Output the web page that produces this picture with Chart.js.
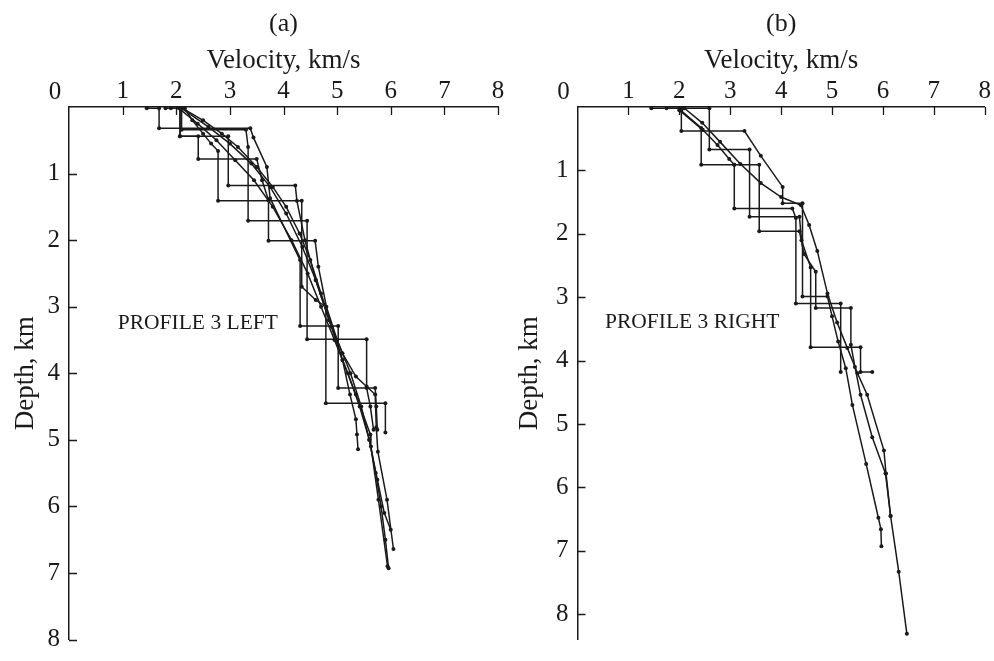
<!DOCTYPE html>
<html><head><meta charset="utf-8">
<script src="https://cdn.jsdelivr.net/npm/chart.js@4.4.1/dist/chart.umd.min.js"></script>
<style>
html,body{margin:0;padding:0;background:#fff;width:994px;height:661px;overflow:hidden;}
#cA{position:absolute;left:0;top:0;}
#cB{position:absolute;left:497px;top:0;}
</style></head><body>
<canvas id="cA" width="520" height="661"></canvas>
<canvas id="cB" width="497" height="661"></canvas>
<script>
// ---- tick labels ----
const velocityTicks = [0,1,2,3,4,5,6,7,8];
const depthTicks = [0,1,2,3,4,5,6,7,8];

// ---- panel (a): PROFILE 3 LEFT (velocity km/s, depth km) ----
const profA1_vel = [1.45,1.68,1.68,3.38,3.44,3.69,3.75,4.31,4.31,5.02,5.02,5.71,5.73,5.75];
const profA1_dep = [0.02,0.02,0.32,0.32,0.46,0.90,1.37,2.30,3.29,3.29,4.22,4.22,4.50,4.85];
const profA2_vel = [1.90,2.07,2.07,2.97,2.97,4.22,4.25,4.40,4.60,4.85,5.10,5.35,5.62,5.63,5.77,5.94];
const profA2_dep = [0.02,0.02,0.44,0.44,1.18,1.18,1.41,2.00,2.60,3.20,3.80,4.32,4.92,5.10,5.90,6.90];
const profA3_vel = [2.16,2.30,2.50,2.65,2.78,2.78,4.34,4.34,4.60,4.79,4.79,5.90,5.90];
const profA3_dep = [0.02,0.20,0.40,0.55,0.66,1.41,1.41,2.70,2.90,3.00,4.45,4.45,4.89];
const profA4_vel = [2.10,2.10,3.30,3.34,3.34,4.44,4.44,5.55,5.55,5.62,5.68];
const profA4_dep = [0.02,0.34,0.34,0.60,1.71,1.71,3.49,3.49,4.22,4.50,4.85];
const profA5_vel = [1.80,2.07,2.07,2.41,2.41,3.50,3.60,3.72,3.72,4.59,4.65,4.80,5.00,5.25,5.45,5.60,5.75,5.88,6.00];
const profA5_dep = [0.02,0.02,0.44,0.44,0.78,0.78,1.10,1.40,2.01,2.01,2.40,3.00,3.50,4.00,4.50,5.00,5.60,6.10,6.35];
const profA6_vel = [2.12,2.50,2.85,3.15,3.50,3.80,4.05,4.30,4.50,4.70,4.90,5.10,5.24,5.35,5.37,5.39];
const profA6_dep = [0.02,0.20,0.40,0.60,0.90,1.20,1.50,1.90,2.30,2.80,3.30,3.80,4.32,4.69,4.92,5.14];
const profA7_vel = [2.10,2.60,3.00,3.40,3.75,4.05,4.35,4.60,4.85,5.10,5.35,5.55,5.71,5.73,5.76,5.93,6.05];
const profA7_dep = [0.02,0.30,0.55,0.85,1.20,1.60,2.10,2.60,3.20,3.70,4.05,4.20,4.32,4.81,5.18,5.90,6.64];
const profA8_vel = [2.05,2.40,2.75,3.10,3.45,3.80,4.15,4.45,4.70,4.95,5.20,5.42,5.60,5.72,5.82,5.90,5.96];
const profA8_dep = [0.02,0.25,0.50,0.80,1.10,1.50,2.00,2.50,3.00,3.50,4.00,4.50,5.00,5.50,6.00,6.50,6.93];

// ---- panel (b): PROFILE 3 RIGHT ----
const profB1_vel = [1.45,2.04,2.04,3.28,3.60,4.03,4.03,4.42,4.42,4.91,5.00,5.12,5.27,5.40,5.67,5.91,5.96,5.97];
const profB1_dep = [0.02,0.02,0.38,0.38,0.77,1.26,1.52,1.52,2.99,2.99,3.30,3.70,4.12,4.70,5.63,6.48,6.66,6.93];
const profB2_vel = [1.75,2.59,2.59,3.38,3.38,4.36,4.40,4.58,4.58,5.56,5.56,5.79];
const profB2_dep = [0.02,0.02,0.67,0.67,1.73,1.73,2.10,2.53,3.79,3.79,4.18,4.18];
const profB3_vel = [2.00,2.04,2.43,2.43,3.08,3.08,4.22,4.29,4.29,5.17,5.17];
const profB3_dep = [0.02,0.06,0.33,0.91,0.91,1.60,1.60,1.75,3.10,3.10,4.18];
const profB4_vel = [2.00,2.46,2.75,2.98,3.08,3.57,3.57,4.36,4.45,4.68,4.68,5.37,5.37,5.45,5.56,5.79,6.05,6.15,6.31,6.47];
const profB4_dep = [0.05,0.36,0.60,0.82,0.91,0.91,1.96,1.96,2.32,2.60,3.17,3.17,3.75,4.10,4.54,5.21,5.78,6.45,7.33,8.31];
const profB5_vel = [2.10,2.45,2.80,3.20,3.60,4.00,4.39,4.55,4.71,4.91,5.10,5.30,5.50,5.69,6.02,6.06,6.15];
const profB5_dep = [0.02,0.25,0.55,0.90,1.20,1.42,1.55,1.86,2.27,2.94,3.40,3.80,4.20,4.54,5.42,5.78,6.45];

const SERIF = '"Liberation Serif", "DejaVu Serif", serif';
const INK = '#1a1a1a';

function pts(v, d) { return v.map((x, i) => ({x: x, y: d[i]})); }
function ds(v, d) {
  return {data: pts(v, d), showLine: true, borderColor: INK, borderWidth: 1.5,
          pointRadius: 2, pointBackgroundColor: INK, pointBorderWidth: 0,
          pointHoverRadius: 2, fill: false, tension: 0};
}

const decor = {
  id: 'decor',
  afterDraw(chart, args, o) {
    const {ctx, chartArea} = chart;
    const xs = chart.scales.x, ys = chart.scales.y;
    ctx.save();
    ctx.strokeStyle = INK; ctx.lineWidth = 1.3;
    ctx.beginPath();
    velocityTicks.forEach(v => { if (v === 0) return;
      const px = Math.round(xs.getPixelForValue(v)) + 0.5;
      ctx.moveTo(px, chartArea.top); ctx.lineTo(px, chartArea.top + 8); });
    depthTicks.forEach(d => { if (d === 0) return;
      const py = Math.round(ys.getPixelForValue(d)) + 0.5;
      ctx.moveTo(chartArea.left, py); ctx.lineTo(chartArea.left + 8, py); });
    ctx.stroke();
    ctx.fillStyle = INK;
    ctx.font = '25px ' + SERIF;
    ctx.textAlign = 'center'; ctx.textBaseline = 'alphabetic';
    ctx.fillText('0', chartArea.left - 14, chartArea.top - 8.5);
    ctx.font = '21.5px ' + SERIF;
    ctx.textAlign = 'left'; ctx.textBaseline = 'middle';
    ctx.fillText(o.label, xs.getPixelForValue(o.lx), ys.getPixelForValue(o.ly));
    ctx.restore();
  }
};

function makeChart(id, title, datasets, yMax, yWidth, yTitlePad, padRight, label, lx, ly) {
  return new Chart(document.getElementById(id), {
    type: 'scatter',
    data: {datasets: datasets},
    plugins: [decor],
    options: {
      responsive: false, animation: false,
      layout: {padding: {left: 0, right: padRight, top: 0, bottom: 12}},
      plugins: {
        legend: {display: false}, tooltip: {enabled: false},
        title: {display: true, text: title, fullSize: false, color: INK,
                font: {family: SERIF, size: 26, weight: 'normal'}, padding: {top: 9, bottom: 0}},
        decor: {label: label, lx: lx, ly: ly}
      },
      scales: {
        x: {type: 'linear', position: 'top', min: 0, max: 8,
            afterBuildTicks: s => { s.ticks = velocityTicks.map(v => ({value: v})); },
            ticks: {color: INK, font: {family: SERIF, size: 25, lineHeight: 1.0}, padding: 3,
                    maxRotation: 0, callback: v => v === 0 ? '' : String(v)},
            grid: {display: false, drawTicks: false},
            border: {display: true, color: INK, width: 1.5},
            title: {display: true, text: 'Velocity, km/s', color: INK,
                    font: {family: SERIF, size: 27}, padding: {top: 5, bottom: 0}},
            afterFit: s => { s.height = 66.8; }},
        y: {type: 'linear', position: 'left', reverse: true, min: 0, max: yMax,
            afterBuildTicks: s => { s.ticks = depthTicks.map(v => ({value: v})); },
            ticks: {color: INK, font: {family: SERIF, size: 25, lineHeight: 1.0}, padding: 9,
                    callback: v => v === 0 ? '' : String(v)},
            grid: {display: false, drawTicks: false},
            border: {display: true, color: INK, width: 1.5},
            title: {display: true, text: 'Depth, km', color: INK,
                    font: {family: SERIF, size: 27}, padding: {top: yTitlePad, bottom: 0}},
            afterFit: s => { s.width = yWidth; }}
      }
    }
  });
}

makeChart('cA', '(a)',
  [ds(profA1_vel, profA1_dep), ds(profA2_vel, profA2_dep), ds(profA3_vel, profA3_dep),
   ds(profA4_vel, profA4_dep), ds(profA5_vel, profA5_dep), ds(profA6_vel, profA6_dep),
   ds(profA7_vel, profA7_dep), ds(profA8_vel, profA8_dep)],
  8, 69, 10, 22, 'PROFILE 3 LEFT', 0.91, 3.25);

makeChart('cB', '(b)',
  [ds(profB1_vel, profB1_dep), ds(profB2_vel, profB2_dep), ds(profB3_vel, profB3_dep),
   ds(profB4_vel, profB4_dep), ds(profB5_vel, profB5_dep)],
  8.4, 80.5, 17, 8.3, 'PROFILE 3 RIGHT', 0.54, 3.40);
</script>
</body></html>
